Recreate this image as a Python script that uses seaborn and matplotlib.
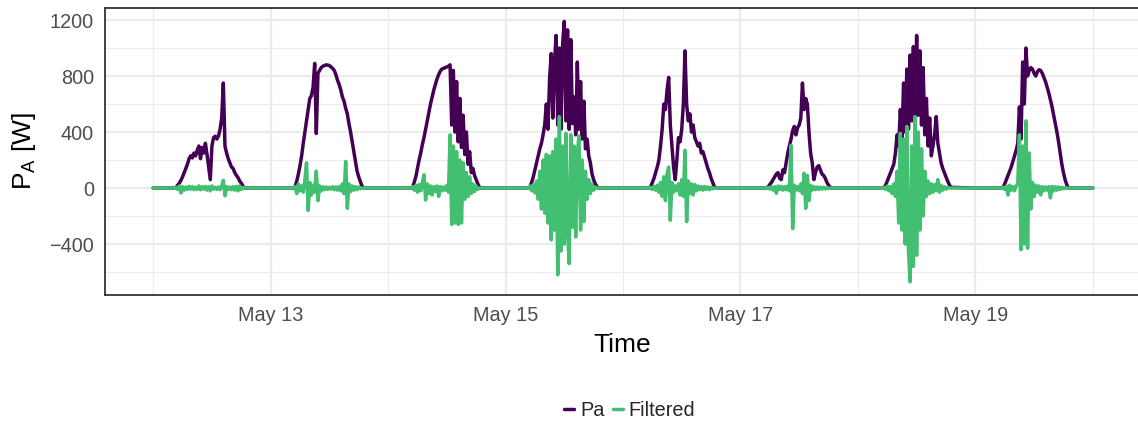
import numpy as np
import pandas as pd
import matplotlib
matplotlib.use("Agg")
import matplotlib.pyplot as plt
import matplotlib.dates as mdates
import seaborn as sns

# ---------------- data (20-min samples, 04:00 .. 19:00 each day) ----------------
START_DAY = "2019-05-12"
N_DAYS = 8
SERIES = ["Pa", "Filtered"]
COLORS = {"Pa": "#440154", "Filtered": "#43BF71"}

pa_may12 = [0, 0, 5, 20, 35, 55, 80, 110, 140, 170, 210, 230, 215, 250, 230, 270, 300, 210,
            290, 250, 320, 240, 150, 60, 300, 360, 370, 350, 370, 420, 500, 750, 300, 250,
            210, 180, 150, 140, 110, 90, 75, 50, 35, 15, 0, 0]
pa_may13 = [0, 0, 0, 10, 50, 100, 160, 230, 320, 400, 480, 560, 640, 660, 720, 890, 390, 820,
            840, 860, 870, 875, 880, 878, 875, 865, 855, 840, 810, 770, 740, 700, 650, 620,
            570, 530, 460, 400, 330, 260, 190, 120, 80, 45, 15, 0]
pa_may14 = [0, 0, 0, 5, 40, 80, 140, 200, 250, 310, 360, 420, 480, 540, 600, 650, 700, 740,
            780, 810, 835, 850, 855, 860, 865, 870, 880, 450, 840, 400, 760, 330, 640, 290,
            520, 240, 400, 170, 260, 110, 140, 90, 60, 30, 5, 0]
pa_may15 = [0, 0, 0, 10, 40, 80, 130, 180, 230, 280, 320, 380, 450, 600, 420, 780, 960, 500,
            900, 1090, 450, 1000, 420, 1030, 1190, 480, 1130, 420, 1060, 460, 650, 380, 900,
            420, 760, 350, 620, 280, 350, 230, 180, 100, 60, 30, 10, 0]
pa_may16 = [0, 0, 0, 0, 0, 10, 40, 70, 110, 150, 200, 300, 420, 600, 560, 700, 790, 450,
            300, 150, 60, 200, 360, 330, 420, 600, 980, 600, 480, 530, 400, 450, 360, 330,
            300, 320, 250, 260, 220, 180, 140, 110, 70, 40, 10, 0]
pa_may17 = [0, 0, 0, 0, 0, 10, 25, 40, 60, 80, 100, 110, 70, 60, 130, 110, 180, 250,
            300, 350, 410, 440, 380, 430, 450, 500, 750, 560, 640, 600, 400, 250, 180, 60,
            110, 150, 160, 130, 100, 90, 70, 40, 20, 5, 0, 0]
pa_may18 = [0, 0, 0, 0, 5, 20, 50, 80, 110, 140, 170, 250, 380, 300, 560, 350, 750, 400,
            850, 420, 950, 480, 1010, 500, 1090, 520, 980, 450, 860, 380, 640, 300, 500, 230,
            300, 380, 510, 320, 250, 180, 140, 110, 80, 50, 25, 5]
pa_may19 = [0, 0, 0, 0, 0, 5, 30, 60, 90, 120, 150, 190, 230, 270, 320, 580, 350, 900,
            600, 1000, 800, 840, 860, 850, 820, 800, 830, 845, 840, 820, 790, 760, 720, 680,
            630, 580, 520, 460, 400, 330, 250, 170, 110, 60, 25, 0]

filt_may12 = [0, 0, 5, -10, 15, -35, 10, -15, 8, -10, 12, -8, 10, -12, 6, -10, 15, -12,
              10, -8, 12, -15, 10, -20, 15, -8, 6, -10, 8, -12, 15, 55, -55, 10,
              -10, 8, -12, 10, -15, 12, -20, 15, -10, 5, 0, 0]
filt_may13 = [0, 0, 0, 10, -40, 30, -20, 15, -30, 60, 180, -160, 40, -50, 20, -30, 120, -90,
              15, -20, 10, -12, 8, -10, 6, -8, 10, -12, 8, -15, 10, -20, 30, -40,
              190, -145, 30, -25, 15, -15, 10, -12, 8, -5, 0, 0]
filt_may14 = [0, 0, 0, 10, -15, 20, -30, 25, -20, 40, 95, -85, 30, -40, 15, -50, 10, -25,
              15, -60, 10, -20, 8, -15, 20, -30, 380, -260, 300, -250, 260, -260, 200, -250,
              180, -80, 110, -60, 80, -40, 30, -25, 15, -10, 0, 0]
filt_may15 = [0, 0, 0, 15, -20, 25, -35, 50, -80, 120, -150, 200, -180, 240, -250, 230, -370, 260,
              -300, 350, -620, 510, -450, 300, -400, 390, -300, -540, 380, -280, 300, -350, 250, 370,
              -300, 200, -240, 120, -80, 60, -40, 30, -15, 8, 0, 0]
filt_may16 = [0, 0, 0, 0, 0, 5, -10, 12, -15, 20, -30, 40, -60, 80, -90, 100, 150, -230,
              40, -30, 15, -20, 30, -50, 60, -60, 270, -240, 50, -40, 30, -50, 25, -20,
              15, -12, 10, -15, 12, -10, 8, -12, 6, -5, 0, 0]
filt_may17 = [0, 0, 0, 0, 0, 5, -8, 10, -15, 10, -38, 15, -10, 12, -15, 10, -12, 15,
              -20, 305, -290, 20, -15, 10, -20, 30, -40, 105, -145, 90, -90, 20, -15, 10,
              -12, 8, -10, 6, -8, 5, -6, 4, -3, 0, 0, 0]
filt_may18 = [0, 0, 0, 0, 5, -10, 15, -20, 10, -40, 30, -60, 120, -250, 390, -300, 350, -400,
              440, -450, -670, 300, -560, 510, -480, 400, -300, 280, -200, 120, -60, 50, -40, 30,
              -30, 25, -20, 60, -30, 20, -15, 10, -8, 5, 0, 0]
filt_may19 = [0, 0, 0, 0, 0, 5, -10, 15, -50, 20, -15, 10, -20, 15, 30, 380, -440, 300,
              -400, 480, -430, 250, -150, 40, -60, 20, -30, 15, -50, 10, -20, 8, -15, 10,
              -70, 12, -20, 10, -15, 8, -10, 5, -5, 3, 0, 0]

PA_DAYS = [pa_may12, pa_may13, pa_may14, pa_may15, pa_may16, pa_may17, pa_may18, pa_may19]
FILT_DAYS = [filt_may12, filt_may13, filt_may14, filt_may15, filt_may16, filt_may17, filt_may18, filt_may19]

Y_TICKS = [-400, 0, 400, 800, 1200]
Y_MINOR = [-600, -200, 200, 600, 1000]

# ---------------- build long table ----------------
times, pa_vals, filt_vals = [], [], []
t0 = pd.Timestamp(START_DAY)
for k in range(N_DAYS):
    day = t0 + pd.Timedelta(days=k)
    times.append(day); pa_vals.append(0); filt_vals.append(0)
    grid = pd.date_range(day + pd.Timedelta(hours=4), periods=len(PA_DAYS[k]), freq="20min")
    times.extend(list(grid)); pa_vals.extend(PA_DAYS[k]); filt_vals.extend(FILT_DAYS[k])
end_t = t0 + pd.Timedelta(days=N_DAYS)
times.append(end_t); pa_vals.append(0); filt_vals.append(0)

n = len(times)
df = pd.DataFrame({
    "Time": times * 2,
    "value": pa_vals + filt_vals,
    "series": ["Pa"] * n + ["Filtered"] * n,
})

# ---------------- plot ----------------
sns.set_theme(style="white")
plt.rcParams["font.family"] = ["Liberation Sans", "DejaVu Sans"]
plt.rcParams["mathtext.fontset"] = "custom"
plt.rcParams["mathtext.rm"] = "Liberation Sans"
plt.rcParams["mathtext.it"] = "Liberation Sans"
plt.rcParams["mathtext.default"] = "regular"

fig = plt.figure(figsize=(11.38, 4.23), dpi=100)
ax = fig.add_axes([105 / 1138, 1 - 295 / 423, 1035 / 1138, 287 / 423])

sns.lineplot(data=df, x="Time", y="value", hue="series", hue_order=SERIES,
             palette=COLORS, linewidth=2.5, estimator=None, ax=ax)

# axes limits
x_left = mdates.date2num(t0) - 48 / 117
x_right = mdates.date2num(end_t) + 47 / 117
ax.set_xlim(x_left, x_right)
ax.set_ylim(-764, 1286)

ax.xaxis.set_major_locator(mdates.DayLocator(bymonthday=[13, 15, 17, 19]))
ax.xaxis.set_minor_locator(mdates.DayLocator(bymonthday=[12, 14, 16, 18, 20]))
ax.xaxis.set_major_formatter(mdates.DateFormatter("%b %d"))
ax.set_yticks(Y_TICKS)
ax.set_yticks(Y_MINOR, minor=True)

ax.grid(which="major", color="#EBEBEB", linewidth=1.6)
ax.grid(which="minor", color="#EBEBEB", linewidth=0.8)
ax.set_axisbelow(True)

for s in ax.spines.values():
    s.set_color("#333333")
    s.set_linewidth(1.3)

ax.tick_params(which="major", length=4.5, width=1.1, color="#333333",
               labelcolor="#4D4D4D", labelsize=14.3, pad=3.5)
ax.tick_params(which="minor", length=0)

ax.set_xlabel("Time", fontsize=19, color="black", labelpad=6)
ax.set_ylabel(r"$P_A$ [W]", fontsize=19, color="black", labelpad=8)

sns.move_legend(ax, "center", bbox_to_anchor=(0.507, -0.404), ncol=2, title=None,
                frameon=False, fontsize=14.3, handlelength=0.5, handletextpad=0.3,
                columnspacing=0.4)
for line in ax.get_legend().get_lines():
    line.set_linewidth(2.5)

fig.savefig("out.png", dpi=100)
